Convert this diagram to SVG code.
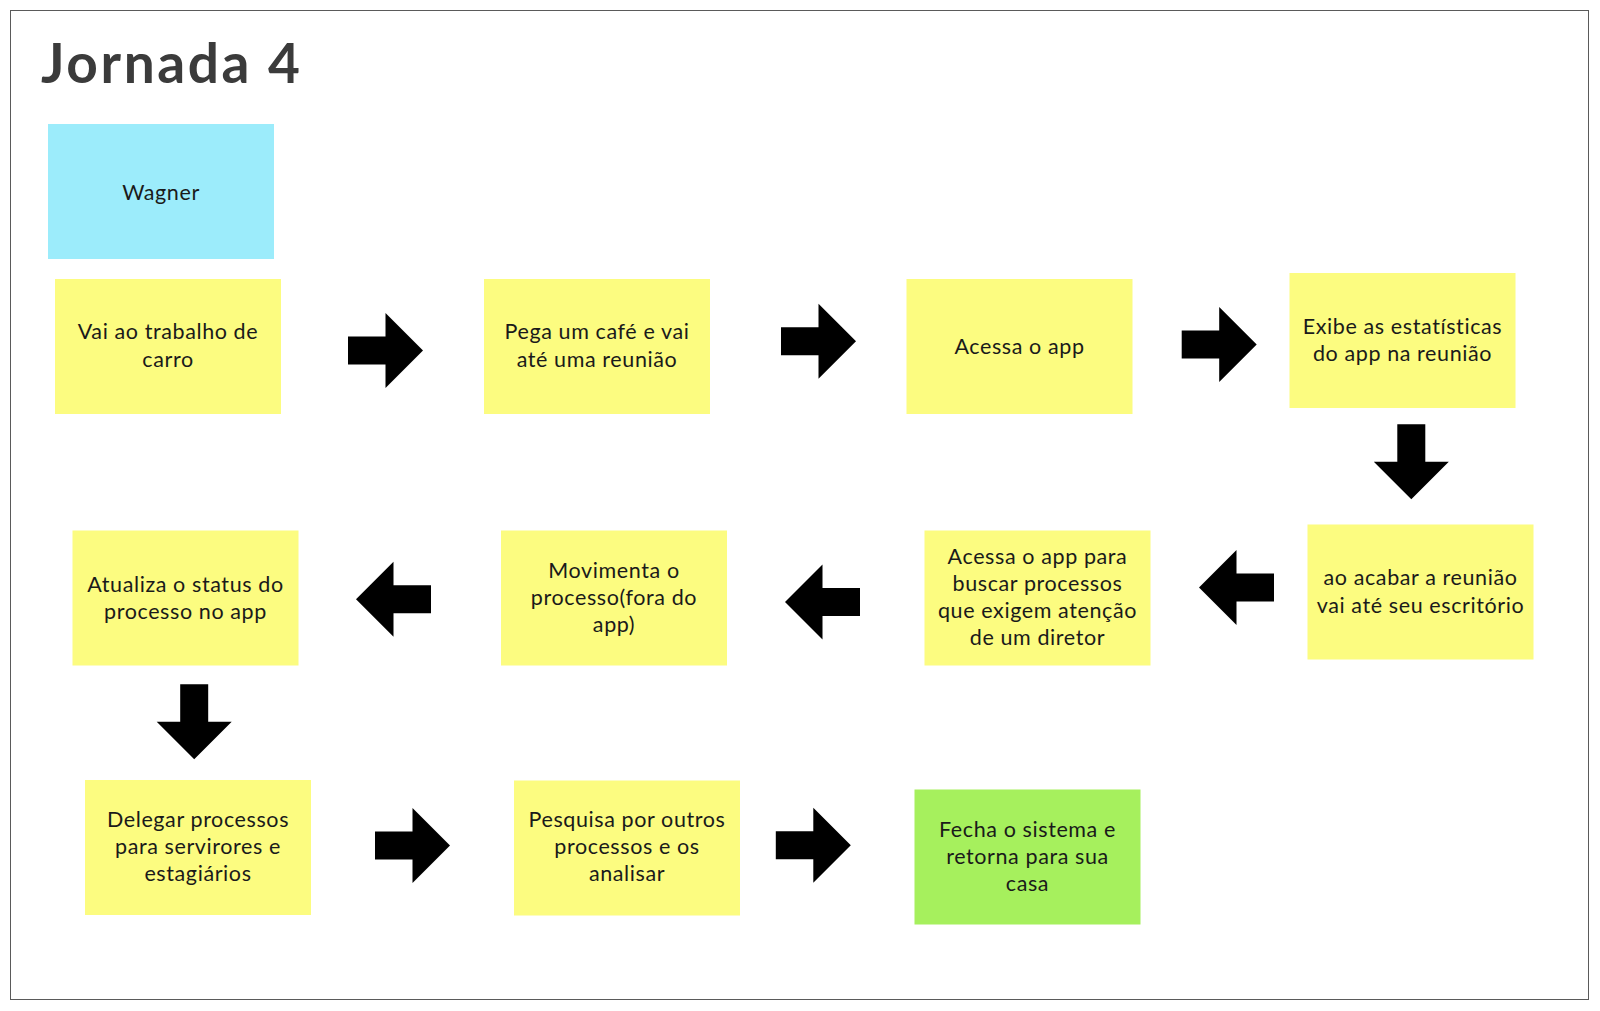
<svg xmlns="http://www.w3.org/2000/svg" xmlns:xlink="http://www.w3.org/1999/xlink" width="1600" height="1011" viewBox="0 0 1600 1011">
<style>
.note{stroke:none}
.y{fill:#fcfc80}
.b{fill:#9cecfb}
.g{fill:#a6f05d}
.t{font-family:Lato,"Liberation Sans",sans-serif;font-size:21.5px;letter-spacing:0.6px;fill:#1a1a1a;text-anchor:middle}
.title{font-family:Lato,"Liberation Sans",sans-serif;font-size:55px;font-weight:bold;letter-spacing:2.6px;fill:#3b3b3b}
.arrow{fill:#000}
</style>
<defs>
<path id="ar" d="M-37.5,-14 H0 V-37.5 L37.5,0 L0,37.5 V14 H-37.5 Z"/>
</defs>
<rect x="0" y="0" width="1600" height="1011" fill="#fff"/>
<rect x="10.5" y="10.5" width="1578" height="989" fill="none" stroke="#5a5a5a" stroke-width="1"/>
<text class="title" x="41" y="83">Jornada 4</text>

<g id="wagner"><rect class="note b" x="48" y="124" width="226" height="135"/><text class="t" x="161" y="200">Wagner</text></g>
<g id="n1"><rect class="note y" x="55" y="279" width="226" height="135"/><text class="t" x="168"><tspan x="168" y="339">Vai ao trabalho de</tspan><tspan x="168" y="366.5">carro</tspan></text></g>
<g id="n2"><rect class="note y" x="484" y="279" width="226" height="135"/><text class="t"><tspan x="597" y="339">Pega um café e vai</tspan><tspan x="597" y="366.5">até uma reunião</tspan></text></g>
<g id="n3"><rect class="note y" x="906.5" y="279" width="226" height="135"/><text class="t" x="1019.5" y="354">Acessa o app</text></g>
<g id="n4"><rect class="note y" x="1289.5" y="273" width="226" height="135"/><text class="t"><tspan x="1402.5" y="333.5">Exibe as estatísticas</tspan><tspan x="1402.5" y="361">do app na reunião</tspan></text></g>
<g id="n5"><rect class="note y" x="1307.5" y="524.5" width="226" height="135"/><text class="t"><tspan x="1420.5" y="585">ao acabar a reunião</tspan><tspan x="1420.5" y="612.5">vai até seu escritório</tspan></text></g>
<g id="n6"><rect class="note y" x="924.5" y="530.5" width="226" height="135"/><text class="t"><tspan x="1037.5" y="564">Acessa o app para</tspan><tspan x="1037.5" y="591">buscar processos</tspan><tspan x="1037.5" y="618">que exigem atenção</tspan><tspan x="1037.5" y="645">de um diretor</tspan></text></g>
<g id="n7"><rect class="note y" x="501" y="530.5" width="226" height="135"/><text class="t"><tspan x="614" y="578">Movimenta o</tspan><tspan x="614" y="605">processo(fora do</tspan><tspan x="614" y="632">app)</tspan></text></g>
<g id="n8"><rect class="note y" x="72.5" y="530.5" width="226" height="135"/><text class="t"><tspan x="185.5" y="591.5">Atualiza o status do</tspan><tspan x="185.5" y="618.5">processo no app</tspan></text></g>
<g id="n9"><rect class="note y" x="85" y="780" width="226" height="135"/><text class="t"><tspan x="198" y="827">Delegar processos</tspan><tspan x="198" y="854">para servirores e</tspan><tspan x="198" y="881">estagiários</tspan></text></g>
<g id="n10"><rect class="note y" x="514" y="780.5" width="226" height="135"/><text class="t"><tspan x="627" y="827">Pesquisa por outros</tspan><tspan x="627" y="854">processos e os</tspan><tspan x="627" y="881">analisar</tspan></text></g>
<g id="n11"><rect class="note g" x="914.5" y="789.5" width="226" height="135"/><text class="t"><tspan x="1027.5" y="836.5">Fecha o sistema e</tspan><tspan x="1027.5" y="863.5">retorna para sua</tspan><tspan x="1027.5" y="890.5">casa</tspan></text></g>

<g id="connectors" class="arrow">
<use xlink:href="#ar" href="#ar" transform="translate(385.5,350.5)"/>
<use xlink:href="#ar" href="#ar" transform="translate(818.5,341.3)"/>
<use xlink:href="#ar" href="#ar" transform="translate(1219.2,344.5)"/>
<use xlink:href="#ar" href="#ar" transform="translate(1411.3,461.8) rotate(90)"/>
<use xlink:href="#ar" href="#ar" transform="translate(1236.5,587.5) rotate(180)"/>
<use xlink:href="#ar" href="#ar" transform="translate(822.5,602) rotate(180)"/>
<use xlink:href="#ar" href="#ar" transform="translate(393.5,599.2) rotate(180)"/>
<use xlink:href="#ar" href="#ar" transform="translate(194.2,721.7) rotate(90)"/>
<use xlink:href="#ar" href="#ar" transform="translate(412.5,845.5)"/>
<use xlink:href="#ar" href="#ar" transform="translate(813.3,845.2)"/>
</g>
</svg>
